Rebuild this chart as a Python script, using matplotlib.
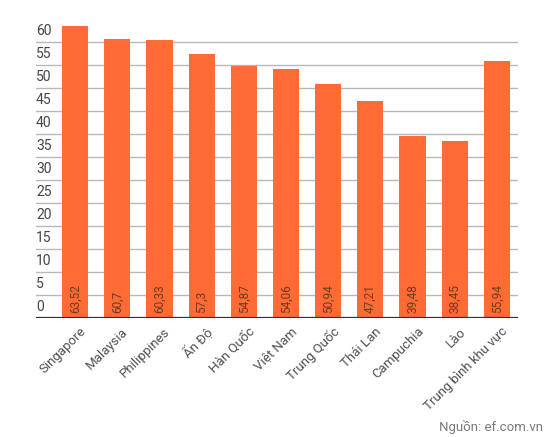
import matplotlib.pyplot as plt
import matplotlib.transforms as mtransforms

countries = ['Singapore', 'Malaysia', 'Philippines', 'Ấn Độ', 'Hàn Quốc', 'Việt Nam',
             'Trung Quốc', 'Thái Lan', 'Campuchia', 'Lào', 'Trung bình khu vực']
scores = [63.52, 60.7, 60.33, 57.3, 54.87, 54.06, 50.94, 47.21, 39.48, 38.45, 55.94]
score_labels = ['63,52', '60,7', '60,33', '57,3', '54,87', '54,06',
                '50,94', '47,21', '39,48', '38,45', '55,94']
yticks = list(range(0, 65, 5))

plt.rcParams['font.family'] = ['Roboto', 'DejaVu Sans']

fig = plt.figure(figsize=(5.47, 4.37), dpi=100)
W, H = 547, 437
ax = fig.add_axes([36 / W, (H - 318) / H, (518 - 36) / W, 300 / H])

x = list(range(len(countries)))
ax.bar(x, scores, width=0.62, color='#FF6A35', zorder=2)

ax.set_xlim(-0.5 - 18 / 42, 10.5)
ax.set_ylim(0, 300 / 4.6)

# gridlines
for t in yticks[1:]:
    ax.axhline(t, color='#b8b8b8', lw=1, zorder=1)
ax.axhline(0, color='#333333', lw=1.6, zorder=3)

for s in ax.spines.values():
    s.set_visible(False)
ax.set_xticks([])
ax.set_yticks([])

# y tick labels sit above gridlines, left aligned
trans = mtransforms.blended_transform_factory(ax.transAxes, ax.transData)
shift = mtransforms.ScaledTranslation(0, 3 / 72, fig.dpi_scale_trans)
for t in yticks:
    ax.text(0.0, t, str(t), transform=trans + shift, ha='left', va='bottom',
            fontsize=10, color='#444444')

# value labels inside bars
for xi, lab in zip(x, score_labels):
    ax.text(xi, 1.0, lab, rotation=90, ha='center', va='bottom',
            fontsize=8.5, color='#6b3a22', zorder=4)

# category labels
for xi, name in zip(x, countries):
    ax.text(xi + 0.1, -1.5, name, rotation=45, rotation_mode='anchor',
            ha='right', va='top', fontsize=9.5, color='#505050')

fig.text(543 / W, 1 - 427 / H, 'Nguồn: ef.com.vn', ha='right', va='center',
         fontsize=9.5, color='#7a7a7a')

fig.savefig('out.png', dpi=100)
